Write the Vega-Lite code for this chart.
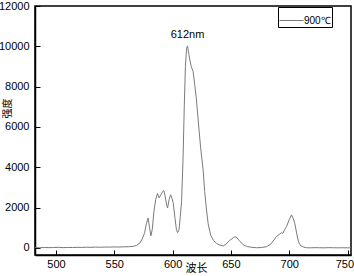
{
  "$schema": "https://vega.github.io/schema/vega-lite/v6.json",
  "width": 316,
  "height": 249,
  "autosize": "none",
  "padding": {"left": 35, "top": 6, "right": 3, "bottom": 21},
  "background": "white",
  "config": {
    "view": {"stroke": "black", "strokeWidth": 1.5},
    "font": "Liberation Sans"
  },
  "datasets": {
    "spectrum": [
      {"wavelength": 482, "intensity": 20}, {"wavelength": 486, "intensity": 10}, {"wavelength": 490, "intensity": 25},
      {"wavelength": 494, "intensity": 15}, {"wavelength": 498, "intensity": 20}, {"wavelength": 502, "intensity": 30},
      {"wavelength": 506, "intensity": 15}, {"wavelength": 510, "intensity": 25}, {"wavelength": 514, "intensity": 20},
      {"wavelength": 518, "intensity": 30}, {"wavelength": 522, "intensity": 25}, {"wavelength": 526, "intensity": 35},
      {"wavelength": 530, "intensity": 30}, {"wavelength": 534, "intensity": 40}, {"wavelength": 538, "intensity": 35},
      {"wavelength": 542, "intensity": 45}, {"wavelength": 546, "intensity": 40}, {"wavelength": 550, "intensity": 50},
      {"wavelength": 554, "intensity": 45}, {"wavelength": 558, "intensity": 55}, {"wavelength": 562, "intensity": 60},
      {"wavelength": 566, "intensity": 80}, {"wavelength": 569, "intensity": 120}, {"wavelength": 572, "intensity": 250},
      {"wavelength": 574, "intensity": 450}, {"wavelength": 576, "intensity": 750}, {"wavelength": 577.5, "intensity": 1200},
      {"wavelength": 579, "intensity": 1480}, {"wavelength": 580.3, "intensity": 1000}, {"wavelength": 581.4, "intensity": 600},
      {"wavelength": 582.5, "intensity": 900}, {"wavelength": 584, "intensity": 1800}, {"wavelength": 585.5, "intensity": 2400},
      {"wavelength": 587, "intensity": 2700}, {"wavelength": 588.5, "intensity": 2480}, {"wavelength": 590, "intensity": 2650},
      {"wavelength": 591.5, "intensity": 2800}, {"wavelength": 592.5, "intensity": 2850}, {"wavelength": 593.5, "intensity": 2600},
      {"wavelength": 595, "intensity": 2100}, {"wavelength": 595.7, "intensity": 1980}, {"wavelength": 597, "intensity": 2400},
      {"wavelength": 598.3, "intensity": 2640}, {"wavelength": 599.5, "intensity": 2450}, {"wavelength": 600.5, "intensity": 2250},
      {"wavelength": 602, "intensity": 1500}, {"wavelength": 603.3, "intensity": 900}, {"wavelength": 604.3, "intensity": 760},
      {"wavelength": 605.5, "intensity": 900}, {"wavelength": 606.5, "intensity": 1500}, {"wavelength": 607.7, "intensity": 2300},
      {"wavelength": 609, "intensity": 4500}, {"wavelength": 610, "intensity": 7000}, {"wavelength": 611, "intensity": 9000},
      {"wavelength": 612, "intensity": 9900}, {"wavelength": 612.8, "intensity": 10020}, {"wavelength": 614, "intensity": 9600},
      {"wavelength": 614.8, "intensity": 9320}, {"wavelength": 616, "intensity": 9000}, {"wavelength": 617.6, "intensity": 8740},
      {"wavelength": 619, "intensity": 8100}, {"wavelength": 620.5, "intensity": 7340}, {"wavelength": 622, "intensity": 6300},
      {"wavelength": 624, "intensity": 5000}, {"wavelength": 626.2, "intensity": 3870}, {"wavelength": 627.5, "intensity": 2800},
      {"wavelength": 629.1, "intensity": 1880}, {"wavelength": 630.5, "intensity": 1200}, {"wavelength": 632.6, "intensity": 640},
      {"wavelength": 635, "intensity": 380}, {"wavelength": 637.7, "intensity": 230}, {"wavelength": 640, "intensity": 150},
      {"wavelength": 643.4, "intensity": 100}, {"wavelength": 646, "intensity": 200}, {"wavelength": 649, "intensity": 380},
      {"wavelength": 652, "intensity": 500}, {"wavelength": 653.5, "intensity": 560}, {"wavelength": 655, "intensity": 520},
      {"wavelength": 657, "intensity": 380}, {"wavelength": 660.5, "intensity": 160}, {"wavelength": 664, "intensity": 70},
      {"wavelength": 668, "intensity": 30}, {"wavelength": 672, "intensity": 10}, {"wavelength": 676, "intensity": 20},
      {"wavelength": 680.5, "intensity": 60}, {"wavelength": 684, "intensity": 180}, {"wavelength": 687, "intensity": 400},
      {"wavelength": 689, "intensity": 560}, {"wavelength": 691, "intensity": 650}, {"wavelength": 693.4, "intensity": 760},
      {"wavelength": 694.5, "intensity": 720}, {"wavelength": 696, "intensity": 900}, {"wavelength": 697.7, "intensity": 1060},
      {"wavelength": 700, "intensity": 1400}, {"wavelength": 702, "intensity": 1640}, {"wavelength": 703.5, "intensity": 1450},
      {"wavelength": 704.8, "intensity": 1220}, {"wavelength": 706.5, "intensity": 700}, {"wavelength": 708, "intensity": 300},
      {"wavelength": 709.5, "intensity": 130}, {"wavelength": 712, "intensity": 50}, {"wavelength": 714.8, "intensity": 10},
      {"wavelength": 718, "intensity": 5}, {"wavelength": 722, "intensity": 15}, {"wavelength": 726, "intensity": 10},
      {"wavelength": 730, "intensity": 5}, {"wavelength": 734, "intensity": 15}, {"wavelength": 738, "intensity": 10},
      {"wavelength": 742, "intensity": 5}, {"wavelength": 746, "intensity": 10}, {"wavelength": 750, "intensity": 5},
      {"wavelength": 753, "intensity": 5}
    ],
    "labels": [
      {"wavelength": 612.8, "intensity": 10020, "label": "612nm"}
    ]
  },
  "layer": [
    {
      "data": {"name": "spectrum"},
      "mark": {"type": "line", "strokeWidth": 1, "clip": true},
      "encoding": {
        "x": {
          "field": "wavelength", "type": "quantitative",
          "scale": {"domain": [482, 753], "nice": false, "zero": false},
          "axis": {
            "title": "波长", "titleFont": "Noto Sans CJK SC", "titleFontSize": 11, "titleFontWeight": "normal",
            "titleColor": "black", "titleX": 161, "titleY": 13, "titleBaseline": "middle", "titleAlign": "center",
            "values": [500, 525, 550, 575, 600, 625, 650, 675, 700, 725, 750],
            "labelExpr": "datum.value % 50 == 0 ? datum.label : ''",
            "labelFlush": 5, "labelFlushOffset": 6,
            "tickSize": {"condition": {"test": "datum.value % 50 == 0", "value": -5}, "value": -3},
            "tickColor": "black", "tickWidth": 1,
            "domainColor": "black", "domainWidth": 1.5,
            "labelColor": "black", "labelFontSize": 11, "labelPadding": 8,
            "grid": false
          }
        },
        "y": {
          "field": "intensity", "type": "quantitative",
          "scale": {"domain": [-350, 12000], "nice": false, "zero": false},
          "axis": {
            "title": "强度", "titleFont": "Noto Sans CJK SC", "titleFontSize": 10, "titleFontWeight": "normal",
            "titleColor": "black", "titleX": -28, "titleY": 102, "titleAngle": -90,
            "titleBaseline": "middle", "titleAlign": "center",
            "values": [0, 1000, 2000, 3000, 4000, 5000, 6000, 7000, 8000, 9000, 10000, 11000, 12000],
            "labelExpr": "datum.value % 2000 == 0 ? datum.label : ''",
            "format": "d",
            "tickSize": {"condition": {"test": "datum.value % 2000 == 0", "value": -5}, "value": -3},
            "tickColor": "black", "tickWidth": 1,
            "domainColor": "black", "domainWidth": 1.5,
            "labelColor": "black", "labelFontSize": 11, "labelPadding": 11,
            "grid": false
          }
        },
        "color": {
          "datum": "900℃",
          "scale": {"range": ["#7a7a7a"]},
          "legend": {
            "title": null, "orient": "none", "legendX": 243, "legendY": 1,
            "symbolType": "stroke", "symbolSize": 576, "symbolStrokeWidth": 1,
            "labelFontSize": 10, "labelColor": "black", "labelOffset": 0,
            "strokeColor": "black", "padding": 1, "fillColor": "white"
          }
        }
      }
    },
    {
      "data": {"name": "labels"},
      "mark": {"type": "text", "fontSize": 11, "color": "black", "baseline": "alphabetic", "dy": -8, "font": "Liberation Sans"},
      "encoding": {
        "x": {"field": "wavelength", "type": "quantitative"},
        "y": {"field": "intensity", "type": "quantitative"},
        "text": {"field": "label"}
      }
    }
  ]
}
